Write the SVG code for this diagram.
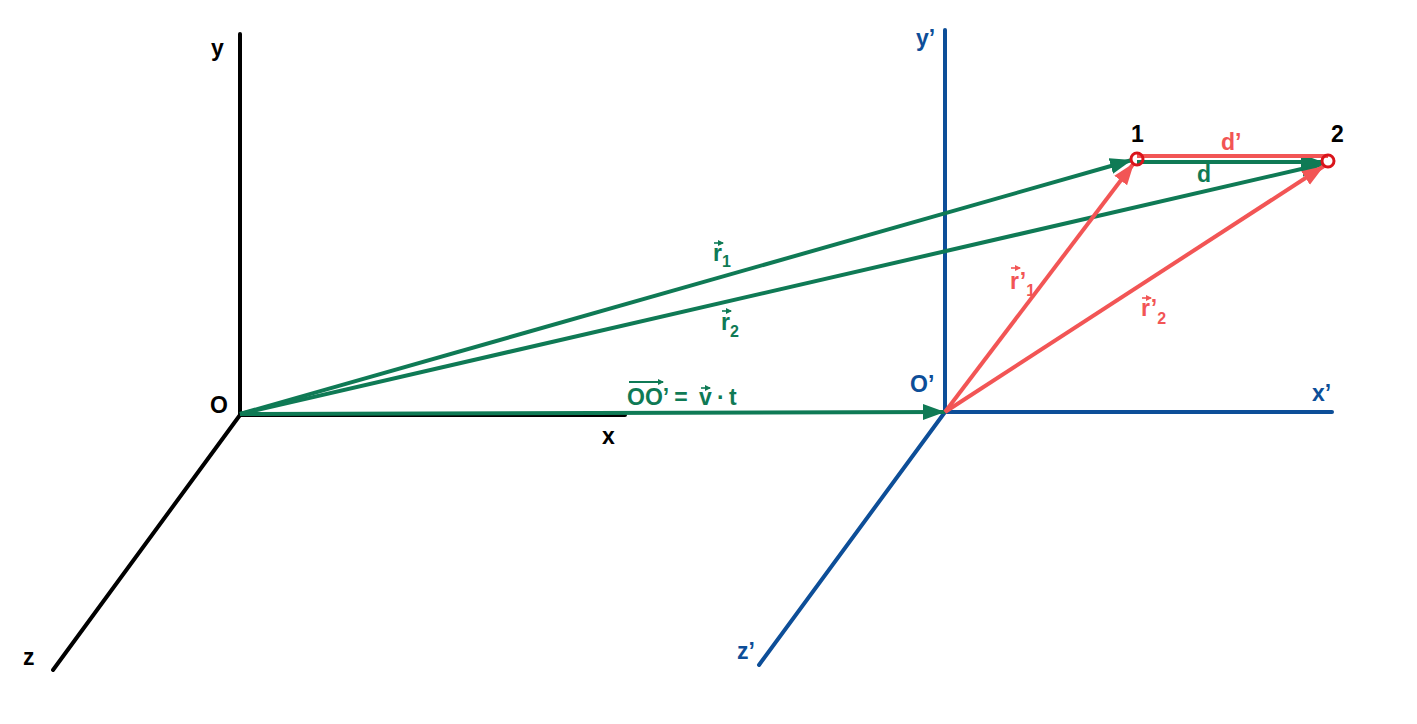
<svg xmlns="http://www.w3.org/2000/svg" width="1417" height="724" viewBox="0 0 1417 724">
<style>
text{font-family:"Liberation Sans",Arial,sans-serif;font-weight:bold;font-size:23px}
.k{fill:#000}.b{fill:#0d4e98}.g{fill:#0f7a55}.r{fill:#f25555}
.ax{stroke-width:4;stroke-linecap:round;fill:none}
.vg{stroke:#0f7a55;stroke-width:4;fill:none}
.vr{stroke:#f25555;stroke-width:4;fill:none}
.sa{stroke-width:1.6;fill:none}
.sub{font-size:16px}
</style>
<defs>
<marker id="ag" markerUnits="userSpaceOnUse" markerWidth="24" markerHeight="18" refX="22" refY="8" orient="auto"><path d="M0,0 L22,8 L0,16 Z" fill="#0f7a55"/></marker>
<marker id="ar" markerUnits="userSpaceOnUse" markerWidth="24" markerHeight="18" refX="22" refY="8" orient="auto"><path d="M0,0 L22,8 L0,16 Z" fill="#f25555"/></marker>
<marker id="sg" markerUnits="userSpaceOnUse" markerWidth="8" markerHeight="8" refX="5" refY="3" orient="auto"><path d="M0,0 L6,3 L0,6 Z" fill="#0f7a55"/></marker>
<marker id="sr" markerUnits="userSpaceOnUse" markerWidth="8" markerHeight="8" refX="5" refY="3" orient="auto"><path d="M0,0 L6,3 L0,6 Z" fill="#f25555"/></marker>
</defs>
<rect width="1417" height="724" fill="#fff"/>
<g id="frame-S">
<line class="ax" x1="240" y1="34" x2="240" y2="415" stroke="#000"/>
<line class="ax" x1="240" y1="415" x2="625" y2="415" stroke="#000"/>
<line class="ax" x1="240" y1="415" x2="53" y2="670" stroke="#000"/>
<text class="k" x="211" y="56">y</text>
<text class="k" x="602" y="444">x</text>
<text class="k" x="23" y="665">z</text>
<text class="k" x="210" y="413">O</text>
</g>
<g id="frame-S-prime">
<line class="ax" x1="945" y1="30" x2="945" y2="412" stroke="#0d4e98"/>
<line class="ax" x1="945" y1="412" x2="1332" y2="412" stroke="#0d4e98"/>
<line class="ax" x1="945" y1="412" x2="759" y2="665" stroke="#0d4e98"/>
<text class="b" x="916" y="46">y’</text>
<text class="b" x="1312" y="401">x’</text>
<text class="b" x="737" y="659">z’</text>
<text class="b" x="910" y="392">O’</text>
</g>
<g id="connectors">
<line class="vg" x1="240" y1="414" x2="945" y2="412" marker-end="url(#ag)"/>
<line class="vg" x1="240" y1="414" x2="1132" y2="160" marker-end="url(#ag)"/>
<line class="vg" x1="240" y1="414" x2="1323" y2="164" marker-end="url(#ag)"/>
<line class="vg" x1="1137" y1="162" x2="1323" y2="162" marker-end="url(#ag)"/>
<line class="vr" x1="1137" y1="156" x2="1328" y2="156"/>
<line class="vr" x1="945" y1="412" x2="1134" y2="163" marker-end="url(#ar)"/>
<line class="vr" x1="945" y1="412" x2="1324" y2="166" marker-end="url(#ar)"/>
</g>
<g id="point-1">
<circle cx="1137" cy="159" r="6" fill="none" stroke="#d9141b" stroke-width="3"/>
<text class="k" x="1131" y="142">1</text>
</g>
<g id="point-2">
<circle cx="1328" cy="161" r="6" fill="none" stroke="#d9141b" stroke-width="3"/>
<text class="k" x="1331" y="142">2</text>
</g>
<g id="labels">
<text class="r" x="1221" y="150">d’</text>
<text class="g" x="1197" y="182">d</text>
<text class="g" x="713" y="261">r<tspan class="sub" dy="6">1</tspan></text>
<line class="sa" x1="714" y1="243" x2="723" y2="243" stroke="#0f7a55" marker-end="url(#sg)"/>
<text class="g" x="721" y="330">r<tspan class="sub" dy="7">2</tspan></text>
<line class="sa" x1="722" y1="311" x2="731" y2="311" stroke="#0f7a55" marker-end="url(#sg)"/>
<text class="r" x="1010" y="289">r’<tspan class="sub" dy="7">1</tspan></text>
<line class="sa" x1="1011" y1="268" x2="1020" y2="268" stroke="#f25555" marker-end="url(#sr)"/>
<text class="r" x="1141" y="316">r’<tspan class="sub" dy="8">2</tspan></text>
<line class="sa" x1="1142" y1="298" x2="1151" y2="298" stroke="#f25555" marker-end="url(#sr)"/>
<text class="g" y="405"><tspan x="627">OO’ =</tspan><tspan x="699">v</tspan><tspan x="717">·</tspan><tspan x="729">t</tspan></text>
<line x1="629" y1="382" x2="663" y2="382" stroke="#0f7a55" stroke-width="2" marker-end="url(#sg)"/>
<line class="sa" x1="701" y1="388" x2="710" y2="388" stroke="#0f7a55" marker-end="url(#sg)"/>
</g>
</svg>
